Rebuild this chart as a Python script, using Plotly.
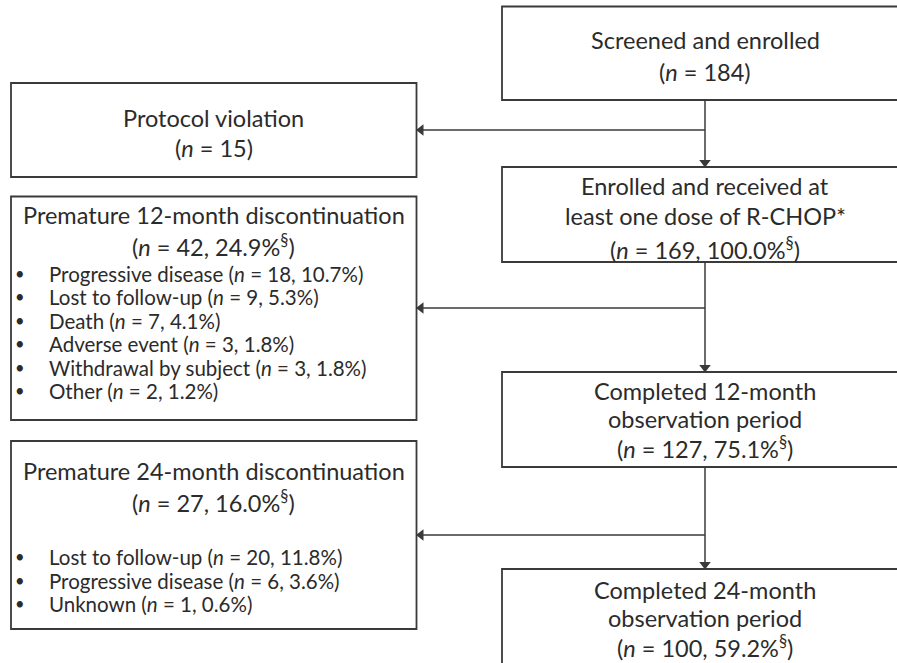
import plotly.graph_objects as go

# ---------------- data ----------------
screened_label = ["Screened and enrolled"]
screened_n = 184

protocol_label = ["Protocol violation"]
protocol_n = 15

enrolled_label = ["Enrolled and received at", "least one dose of R-CHOP*"]
enrolled_n = 169
enrolled_pct = 100.0

disc12_label = ["Premature 12-month discontinuation"]
disc12_n = 42
disc12_pct = 24.9
disc12_reasons = ["Progressive disease", "Lost to follow-up", "Death",
                  "Adverse event", "Withdrawal by subject", "Other"]
disc12_counts = [18, 9, 7, 3, 3, 2]
disc12_pcts = [10.7, 5.3, 4.1, 1.8, 1.8, 1.2]

completed12_label = ["Completed 12-month", "observation period"]
completed12_n = 127
completed12_pct = 75.1

disc24_label = ["Premature 24-month discontinuation"]
disc24_n = 27
disc24_pct = 16.0
disc24_reasons = ["Lost to follow-up", "Progressive disease", "Unknown"]
disc24_counts = [20, 6, 1]
disc24_pcts = [11.8, 3.6, 0.6]

completed24_label = ["Completed 24-month", "observation period"]
completed24_n = 100
completed24_pct = 59.2

# ---------------- styling / layout ----------------
W, H = 897, 663
FONT = "Lato"
TXT = "#2b2b2b"
LINE = "#3a3a3a"
HEAD_SIZE = 23.5
BUL_SIZE = 20.5


def n_only(n):
    return f"(<i>n</i> = {n})"


def n_pct(n, p, sect=True):
    s = "<sup>§</sup>" if sect else ""
    return f"(<i>n</i> = {n}, {p:.1f}%{s})"


fig = go.Figure()
shapes = []
annotations = []


def box(x0, y0, x1, y1):
    shapes.append(dict(type="rect", xref="x", yref="y", x0=x0, y0=y0, x1=x1, y1=y1,
                       line=dict(color=LINE, width=1.8), fillcolor="rgba(0,0,0,0)"))


def text(x, y, s, size=HEAD_SIZE, anchor="center"):
    annotations.append(dict(x=x, y=y, xref="x", yref="y", text=s, showarrow=False,
                            xanchor=anchor, yanchor="middle",
                            font=dict(family=FONT, size=size, color=TXT)))


HEAD = 4.5  # half arrowhead length


def arrow(x0, y0, x1, y1):
    shapes.append(dict(type="line", xref="x", yref="y", x0=x0, y0=y0, x1=x1, y1=y1,
                       line=dict(color=LINE, width=1.5)))
    if x0 == x1:  # vertical, pointing down
        fig.add_trace(go.Scatter(x=[x1], y=[y1 - HEAD], mode="markers", hoverinfo="skip",
                                 marker=dict(symbol="triangle-down", size=10, color=LINE,
                                             line=dict(width=0))))
    else:  # horizontal, pointing left
        fig.add_trace(go.Scatter(x=[x1 + HEAD], y=[y1], mode="markers", hoverinfo="skip",
                                 marker=dict(symbol="triangle-left", size=10, color=LINE,
                                             line=dict(width=0))))


# right column boxes
CX = 705
box(502, 6.5, 920, 100)
box(502, 167, 920, 262)
box(502, 372, 920, 467)
box(502, 569, 920, 690)
# left column boxes
LX0, LX1 = 11, 416.5
box(LX0, 83, LX1, 177)
box(LX0, 196.5, LX1, 420)
box(LX0, 441, LX1, 629)
LCX = (LX0 + LX1) / 2

# texts - screened
text(CX, 40, screened_label[0])
text(CX, 72, n_only(screened_n))
# enrolled
text(CX, 186, enrolled_label[0])
text(CX, 216, enrolled_label[1])
text(CX, 248, n_pct(enrolled_n, enrolled_pct))
# completed 12
text(CX, 391, completed12_label[0])
text(CX, 419, completed12_label[1])
text(CX, 447, n_pct(completed12_n, completed12_pct))
# completed 24
text(CX, 590, completed24_label[0])
text(CX, 618, completed24_label[1])
text(CX, 646, n_pct(completed24_n, completed24_pct))

# protocol
text(LCX, 118, protocol_label[0])
text(LCX, 148, n_only(protocol_n))

# disc 12
text(LCX, 215, disc12_label[0])
text(LCX, 245, n_pct(disc12_n, disc12_pct))
BX, TX = 20, 47
y = 273.5
for r, c, p in zip(disc12_reasons, disc12_counts, disc12_pcts):
    text(BX, y, "•", BUL_SIZE - 4)
    text(TX, y, f"{r} " + n_pct(c, p, sect=False), BUL_SIZE, anchor="left")
    y += 23.5

# disc 24
text(LCX, 471, disc24_label[0])
text(LCX, 501, n_pct(disc24_n, disc24_pct))
y = 557
for r, c, p in zip(disc24_reasons, disc24_counts, disc24_pcts):
    text(BX, y, "•", BUL_SIZE - 4)
    text(TX, y, f"{r} " + n_pct(c, p, sect=False), BUL_SIZE, anchor="left")
    y += 23.5

# connectors
arrow(CX, 100, CX, 167)
arrow(CX, 130, LX1, 130)
arrow(CX, 262, CX, 372)
arrow(CX, 308, LX1, 308)
arrow(CX, 467, CX, 569)
arrow(CX, 535, LX1, 535)

fig.update_layout(
    width=W, height=H,
    margin=dict(l=0, r=0, t=0, b=0),
    paper_bgcolor="white", plot_bgcolor="white",
    xaxis=dict(range=[0, W], visible=False, fixedrange=True),
    yaxis=dict(range=[H, 0], visible=False, fixedrange=True),
    shapes=shapes, annotations=annotations,
    showlegend=False,
)
fig.write_html("out.html", config={"displayModeBar": False},
               post_script="document.body.style.margin='0px';document.body.style.overflow='hidden';")
